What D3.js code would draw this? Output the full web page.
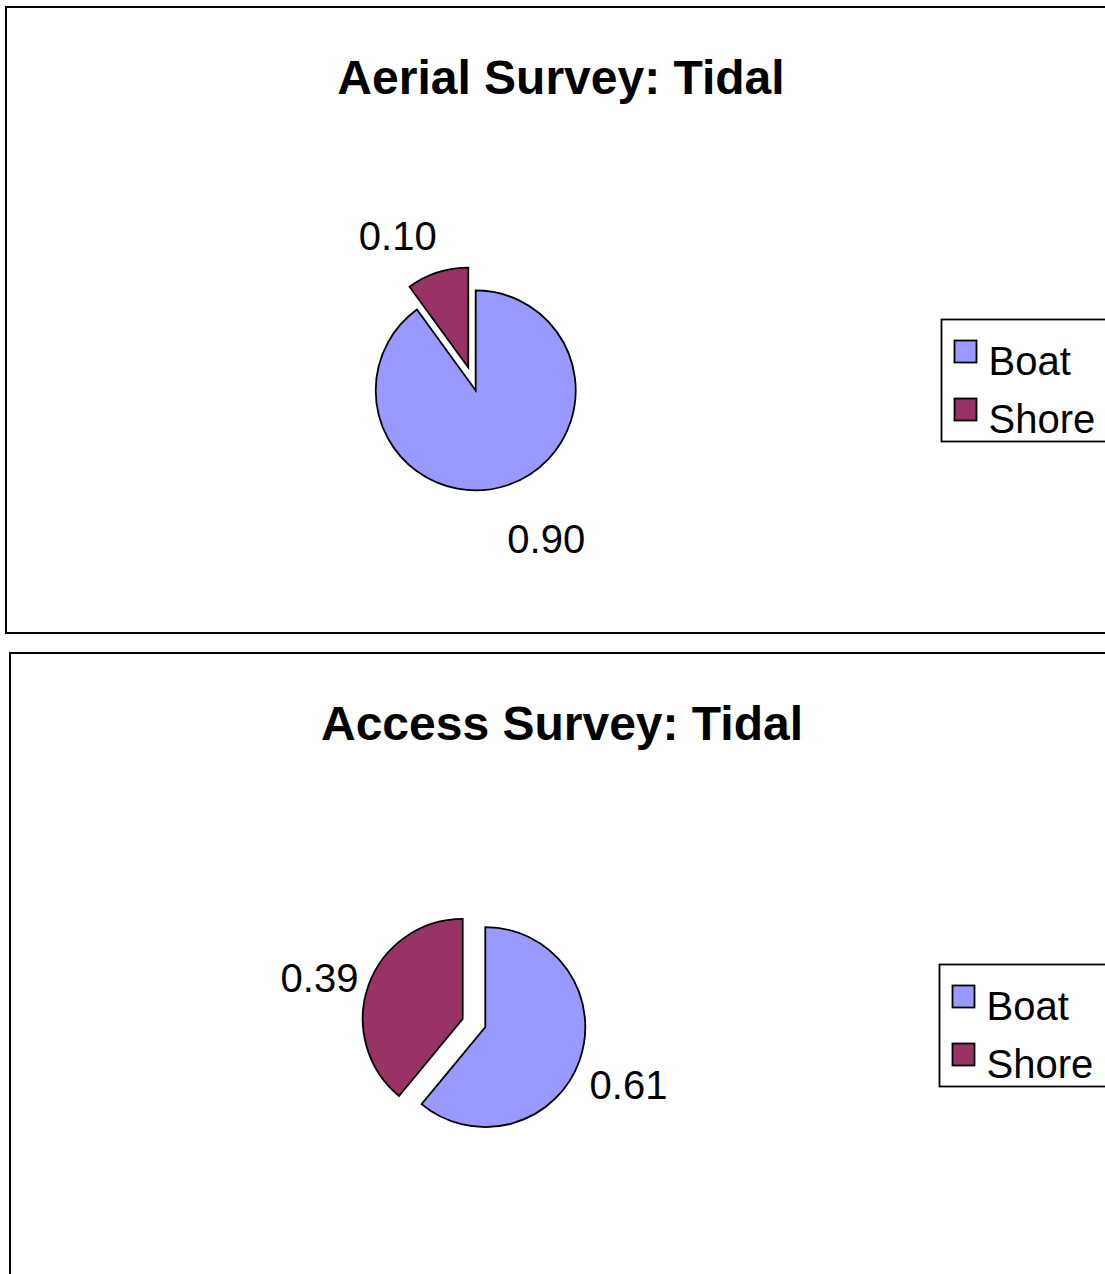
<!DOCTYPE html>
<html>
<head>
<meta charset="utf-8">
<script src="https://cdn.jsdelivr.net/npm/d3@7/dist/d3.min.js"></script>
<style>
  html, body { margin: 0; padding: 0; background: #fff; }
  svg { display: block; }
  text { font-family: "Liberation Sans", Arial, sans-serif; fill: #000; }
</style>
</head>
<body>
<svg id="chart" width="1105" height="1274"></svg>
<script>
// ---- Data ----
const categories = ["Boat", "Shore"];
const aerialValues = [0.90, 0.10];
const accessValues = [0.61, 0.39];
const aerialTitle = "Aerial Survey: Tidal";
const accessTitle = "Access Survey: Tidal";
const sliceColors = ["#9999FF", "#993366"];

const svg = d3.select("#chart");
const color = d3.scaleOrdinal().domain(categories).range(sliceColors);
const fmt = d3.format(".2f");

function drawPanel(opts) {
  const g = svg.append("g");
  // frame
  g.append("rect")
    .attr("x", opts.frame.x).attr("y", opts.frame.y)
    .attr("width", opts.frame.w).attr("height", opts.frame.h)
    .attr("fill", "#fff").attr("stroke", "#000").attr("stroke-width", 2);

  // title
  g.append("text")
    .attr("x", opts.titleX).attr("y", opts.titleY)
    .attr("text-anchor", "middle")
    .style("font-size", "48px").style("font-weight", "bold")
    .text(opts.title);

  const radius = 100, explode = 12;
  const pie = d3.pie().sort(null).value(d => d.value).startAngle(0).endAngle(2 * Math.PI);
  const arc = d3.arc().innerRadius(0).outerRadius(radius);
  const data = categories.map((c, i) => ({ cat: c, value: opts.values[i] }));
  const arcs = pie(data);

  const pg = g.append("g").attr("transform", `translate(${opts.cx},${opts.cy})`);
  const slices = pg.selectAll("g.slice").data(arcs).enter().append("g")
    .attr("class", "slice")
    .attr("transform", d => {
      const m = (d.startAngle + d.endAngle) / 2;
      return `translate(${explode * Math.sin(m)},${-explode * Math.cos(m)})`;
    });
  slices.append("path")
    .attr("d", arc)
    .attr("fill", d => color(d.data.cat))
    .attr("stroke", "#000").attr("stroke-width", 1.8)
    .attr("stroke-linejoin", "miter");

  // labels
  const fs = 40, halfW = 35, rx = 115, ry = 147, dy = 8;
  slices.append("text")
    .attr("x", d => {
      const m = (d.startAngle + d.endAngle) / 2;
      const s = Math.sin(m);
      return rx * s + Math.sign(s) * halfW;
    })
    .attr("y", d => {
      const m = (d.startAngle + d.endAngle) / 2;
      return ry * -Math.cos(m) + dy + fs * 0.36;
    })
    .attr("text-anchor", "middle")
    .style("font-size", fs + "px")
    .text(d => fmt(d.data.value));

  // legend
  const lg = g.append("g").attr("transform", `translate(${opts.legendX},${opts.legendY})`);
  lg.append("rect").attr("x", 0).attr("y", 0).attr("width", 180).attr("height", 122)
    .attr("fill", "#fff").attr("stroke", "#000").attr("stroke-width", 1.8);
  const items = lg.selectAll("g.item").data(categories).enter().append("g")
    .attr("class", "item")
    .attr("transform", (d, i) => `translate(13,${21 + i * 58})`);
  items.append("rect").attr("width", 22).attr("height", 22)
    .attr("fill", d => color(d)).attr("stroke", "#000").attr("stroke-width", 1.8);
  items.append("text").attr("x", 34).attr("y", 34)
    .style("font-size", "40px")
    .text(d => d);
}

drawPanel({
  frame: { x: 6, y: 7, w: 1120, h: 626 },
  title: aerialTitle, titleX: 561, titleY: 94,
  values: aerialValues, cx: 472, cy: 379,
  legendX: 941.5, legendY: 319.5
});
drawPanel({
  frame: { x: 10, y: 653, w: 1120, h: 700 },
  title: accessTitle, titleX: 562, titleY: 740,
  values: accessValues, cx: 474, cy: 1023,
  legendX: 939.5, legendY: 964.5
});
</script>
</body>
</html>
